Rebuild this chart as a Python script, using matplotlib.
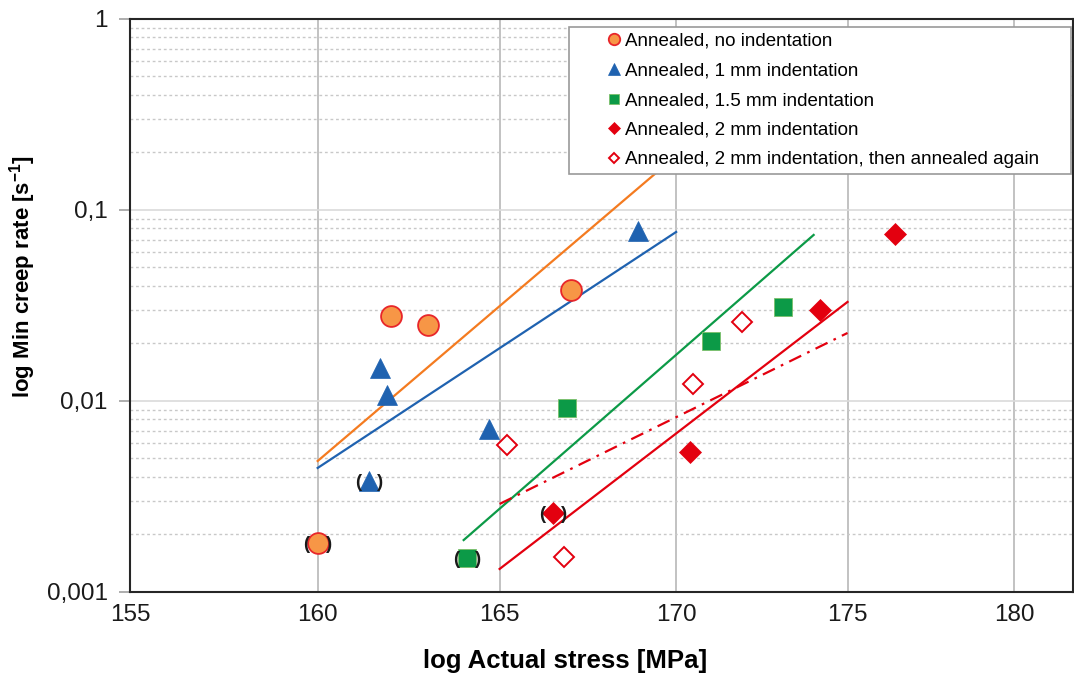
import matplotlib
import numpy as np

matplotlib.use("Agg")
import matplotlib.pyplot as plt
from matplotlib.ticker import FixedLocator, FuncFormatter, LogLocator, NullFormatter, NullLocator

plt.rcParams["font.family"] = ["Liberation Sans", "DejaVu Sans"]
plt.rcParams["mathtext.fontset"] = "custom"
plt.rcParams["mathtext.rm"] = "Liberation Sans"
plt.rcParams["mathtext.bf"] = "Liberation Sans:bold"

# measured points (stress in MPa, min creep rate in 1/s)
orange_x = [160.0, 162.0, 163.0, 167.0]
orange_y = [0.0018, 0.028, 0.025, 0.038]
orange_paren = [True, False, False, False]

blue_x = [161.4, 161.7, 161.9, 164.7, 168.9]
blue_y = [0.0038, 0.0148, 0.0108, 0.0071, 0.078]
blue_paren = [True, False, False, False, False]

green_x = [164.1, 166.9, 171.0, 173.1]
green_y = [0.0015, 0.0092, 0.0206, 0.031]
green_paren = [True, False, False, False]

red_x = [166.5, 170.4, 174.2, 176.4]
red_y = [0.0026, 0.0054, 0.030, 0.075]
red_paren = [True, False, False, False]

open_x = [165.2, 166.8, 170.5, 171.9]
open_y = [0.0059, 0.00152, 0.0122, 0.0258]

# power-law trend lines, end points
orange_fit_x = [160.0, 170.0]
orange_fit_y = [0.00485, 0.192]
blue_fit_x = [160.0, 170.0]
blue_fit_y = [0.00446, 0.0767]
green_fit_x = [164.0, 174.0]
green_fit_y = [0.00187, 0.074]
red_fit_x = [165.0, 175.0]
red_fit_y = [0.00132, 0.033]
open_fit_x = [165.0, 175.0]
open_fit_y = [0.00289, 0.0227]

x_ticks = [155, 160, 165, 170, 175, 180]
y_ticks = [0.001, 0.01, 0.1, 1]

labels = [
    "Annealed, no indentation",
    "Annealed, 1 mm indentation",
    "Annealed, 1.5 mm indentation",
    "Annealed, 2 mm indentation",
    "Annealed, 2 mm indentation, then annealed again",
]

ORANGE = "#F79646"
ORANGE_LINE = "#F47B20"
BLUE = "#1F62B0"
GREEN = "#0C9A47"
RED = "#E3000F"

fig = plt.figure(figsize=(10.74, 6.82), dpi=100)
ax = fig.add_axes([0.1210, 0.1320, 0.8780, 0.8402])

ax.set_xscale("log")
ax.set_yscale("log")
ax.set_xlim(155, 181.8)
ax.set_ylim(0.001, 1)

# trend lines
ax.plot(orange_fit_x, orange_fit_y, color=ORANGE_LINE, lw=1.6, zorder=3)
ax.plot(blue_fit_x, blue_fit_y, color=BLUE, lw=1.6, zorder=3)
ax.plot(green_fit_x, green_fit_y, color=GREEN, lw=1.6, zorder=3)
ax.plot(red_fit_x, red_fit_y, color=RED, lw=1.6, zorder=3)
ax.plot(open_fit_x, open_fit_y, color=RED, lw=1.6, zorder=3, linestyle=(0, (6, 3, 1.2, 3)))

# markers
h1, = ax.plot(orange_x, orange_y, "o", ms=15, mfc=ORANGE, mec="#E8262A", mew=1.3, zorder=4)
h2, = ax.plot(blue_x, blue_y, "^", ms=15, mfc=BLUE, mec=BLUE, mew=0.5, zorder=4)
h3, = ax.plot(green_x, green_y, "s", ms=13, mfc=GREEN, mec="#7CBF6A", mew=0.6, zorder=4)
h4, = ax.plot(red_x, red_y, "D", ms=11, mfc=RED, mec=RED, mew=0.5, zorder=4)
h5, = ax.plot(open_x, open_y, "D", ms=10, mfc="white", mec=RED, mew=1.4, zorder=4)

# parentheses around uncertain points
for xs, ys, flags in [
    (orange_x, orange_y, orange_paren),
    (blue_x, blue_y, blue_paren),
    (green_x, green_y, green_paren),
    (red_x, red_y, red_paren),
]:
    for x, y, flag in zip(xs, ys, flags):
        if not flag:
            continue
        for txt, dx in (("(", -8), (")", 8)):
            ax.annotate(txt, (x, y), xytext=(dx, -1), textcoords="offset points",
                        ha="center", va="center", fontsize=13.5, fontweight="bold",
                        color="#1a1a1a", zorder=5)

# axes, ticks, grid
ax.xaxis.set_major_locator(FixedLocator(x_ticks))
ax.xaxis.set_minor_locator(NullLocator())
ax.xaxis.set_major_formatter(FuncFormatter(lambda v, p: f"{v:g}"))
ax.xaxis.set_minor_formatter(NullFormatter())
ax.yaxis.set_major_locator(FixedLocator(y_ticks))
ax.yaxis.set_minor_locator(LogLocator(base=10, subs=np.arange(2, 10)))
ax.yaxis.set_major_formatter(FuncFormatter(lambda v, p: f"{v:g}".replace(".", ",")))
ax.yaxis.set_minor_formatter(NullFormatter())

ax.tick_params(axis="x", which="major", length=0, pad=9, labelsize=17.5, colors="#1a1a1a")
ax.tick_params(axis="y", which="major", length=8, width=1.2, color="#A0A0A0", pad=8,
               labelsize=17.5, labelcolor="#1a1a1a")
ax.tick_params(axis="y", which="minor", length=0)

ax.grid(axis="x", which="major", color="#BDBDBD", lw=1.3)
ax.grid(axis="y", which="major", color="#DADADA", lw=1.2)
ax.grid(axis="y", which="minor", color="#C8C8C8", lw=1.0, linestyle=(0, (2, 2)))
ax.set_axisbelow(True)

for spine in ax.spines.values():
    spine.set_color("#262626")
    spine.set_linewidth(1.5)

ax.set_xlabel("log Actual stress [MPa]", fontsize=18.5, fontweight="bold")
ax.xaxis.set_label_coords(0.461, -0.100)
ax.set_ylabel(r"log Min creep rate [s$^{\mathbf{-1}}$]", fontsize=16, fontweight="bold")
ax.yaxis.set_label_coords(-0.097, 0.55)

leg = ax.legend(
    [h1, h2, h3, h4, h5], labels,
    loc="upper left", bbox_to_anchor=(0.4655, 0.7295, 0.5324, 0.2565), mode="expand",
    borderaxespad=0, fontsize=13.5, markerscale=0.55, frameon=True, fancybox=False,
    framealpha=1, edgecolor="#9A9A9A", borderpad=0.3, labelspacing=0.67,
    handlelength=4.26, handletextpad=-1.56, numpoints=1,
)
leg.get_frame().set_linewidth(1.2)
leg.set_zorder(10)

fig.savefig("out.png", dpi=100)
